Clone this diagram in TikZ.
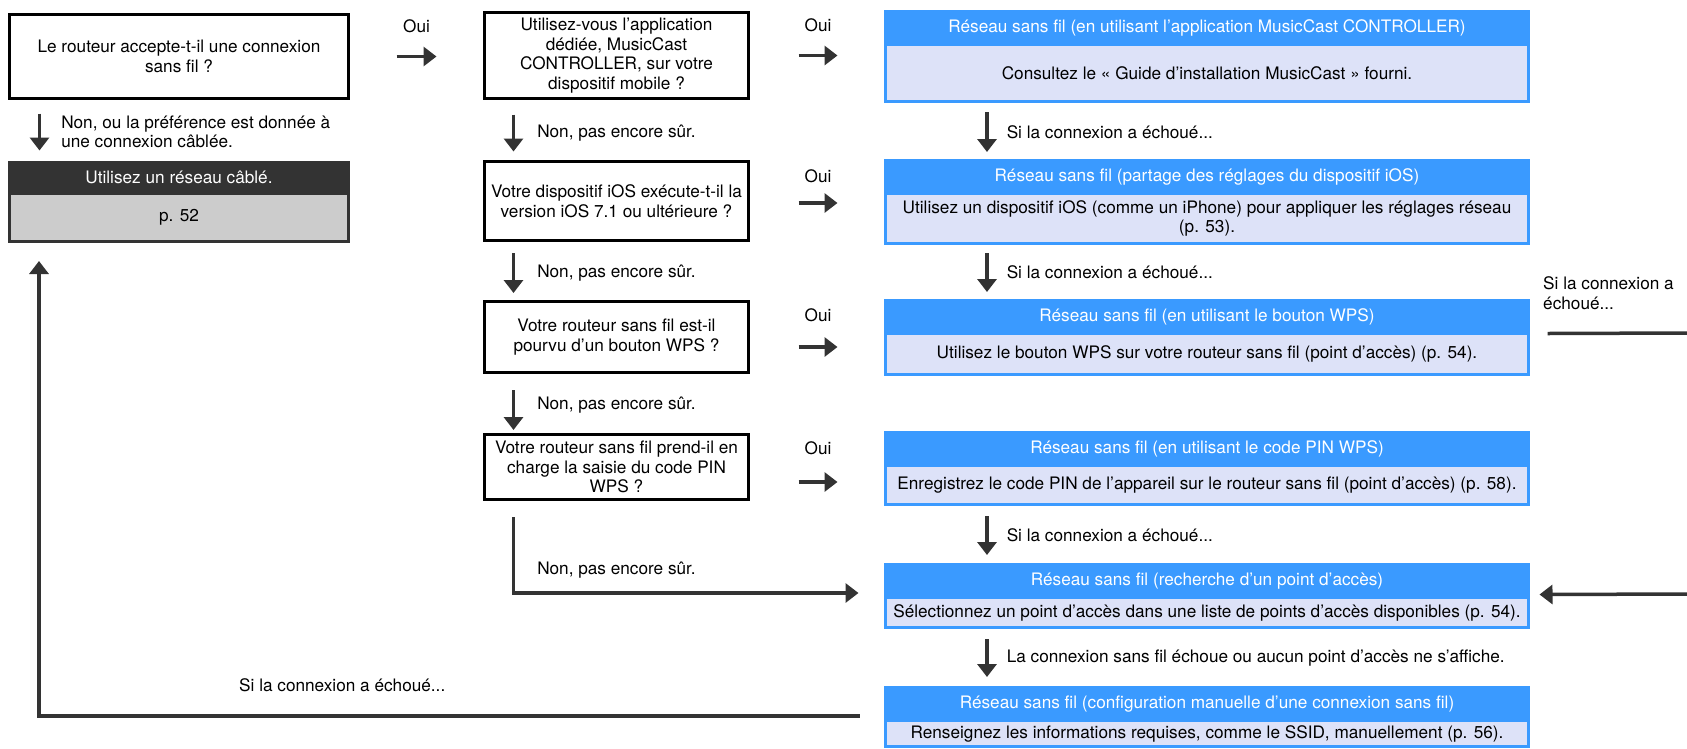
\documentclass[tikz,border=0pt]{standalone}
\usepackage{fontspec}
\setmainfont{TeX Gyre Heros}
\usetikzlibrary{positioning,arrows.meta}
\definecolor{wblue}{RGB}{58,154,255}
\definecolor{wlav}{RGB}{221,226,248}
\definecolor{dgray}{RGB}{51,51,51}
\definecolor{lgray}{RGB}{204,204,204}
\newcommand\flowfont{\fontsize{17.2}{19.5}\selectfont}
\begin{document}
\begin{tikzpicture}[x=1pt,y=-1pt,
  qbox/.style={draw=black,line width=3pt,fill=white,align=center,inner sep=2pt,outer sep=0pt,minimum width=264pt,font=\flowfont},
  hdr/.style={draw=wblue,fill=wblue,line width=3pt,text=white,align=center,inner sep=0pt,outer sep=0pt,minimum width=643pt,minimum height=33pt,font=\flowfont},
  body/.style={draw=wblue,fill=wlav,line width=3pt,align=center,inner sep=1pt,outer sep=0pt,minimum width=643pt,font=\flowfont},
  lbl/.style={anchor=west,align=left,inner sep=0pt,font=\flowfont},
  arr/.style={draw=dgray,line width=3.5pt,-{Triangle[length=13pt,width=19pt]}},
  line/.style={draw=dgray,line width=3.5pt}]
\useasboundingbox (0,0) rectangle (1687,748);
% questions
\node[qbox,minimum width=339pt,minimum height=84pt] (q1) at (179,56.5) {Le routeur accepte-t-il une connexion\\sans fil ?};
\node[qbox,minimum height=86pt] (q2) at (616.5,55.5) {Utilisez-vous l’application\\dédiée, MusicCast\\CONTROLLER, sur votre\\dispositif mobile ?};
\node[qbox,minimum height=79pt] (q3) at (616.5,201) {Votre dispositif iOS exécute-t-il la\\version iOS 7.1 ou ultérieure ?};
\node[qbox,minimum height=71pt] (q4) at (616.5,337) {Votre routeur sans fil est-il\\pourvu d’un bouton WPS ?};
\node[qbox,minimum height=65pt] (q5) at (616.5,467) {Votre routeur sans fil prend-il en\\charge la saisie du code PIN\\WPS ?};
% wired network
\node[draw=dgray,fill=dgray,line width=3pt,text=white,inner sep=0pt,outer sep=0pt,minimum width=339pt,minimum height=31pt,font=\flowfont] (wh) at (179,177.5) {Utilisez un réseau câblé.};
\node[draw=dgray,fill=lgray,line width=3pt,inner sep=0pt,outer sep=0pt,minimum width=339pt,minimum height=48.5pt,font=\flowfont,below=0pt of wh] (wb) {p. 52};
% wireless
\node[hdr] (b1h) at (1207,28) {Réseau sans fil (en utilisant l’application MusicCast CONTROLLER)};
\node[body,minimum height=57pt,below=0pt of b1h] (b1) {Consultez le « Guide d’installation MusicCast » fourni.};
\node[hdr] (b2h) at (1207,177) {Réseau sans fil (partage des réglages du dispositif iOS)};
\node[body,minimum height=50pt,below=0pt of b2h] (b2) {Utilisez un dispositif iOS (comme un iPhone) pour appliquer les réglages réseau\\(p. 53).};
\node[hdr] (b3h) at (1207,317) {Réseau sans fil (en utilisant le bouton WPS)};
\node[body,minimum height=41pt,below=0pt of b3h] (b3) {Utilisez le bouton WPS sur votre routeur sans fil (point d’accès) (p. 54).};
\node[hdr] (b4h) at (1207,448.5) {Réseau sans fil (en utilisant le code PIN WPS)};
\node[body,minimum height=39.5pt,below=0pt of b4h] (b4) {Enregistrez le code PIN de l’appareil sur le routeur sans fil (point d’accès) (p. 58).};
\node[hdr] (b5h) at (1207,581) {Réseau sans fil (recherche d’un point d’accès)};
\node[body,minimum height=30pt,below=0pt of b5h] (b5) {Sélectionnez un point d’accès dans une liste de points d’accès disponibles (p. 54).};
\node[hdr] (b6h) at (1207,704) {Réseau sans fil (configuration manuelle d’une connexion sans fil)};
\node[body,minimum height=26pt,below=0pt of b6h] (b6) {Renseignez les informations requises, comme le SSID, manuellement (p. 56).};
% oui
\draw[arr] ([xshift=48pt]q1.east) -- ++(40,0) node[midway,yshift=30pt,font=\flowfont] {Oui};
\draw[arr] ([xshift=50pt]q2.east) -- ++(39,0) node[midway,yshift=30pt,font=\flowfont] {Oui};
\draw[arr] ([xshift=50pt,yshift=-2pt]q3.east) -- ++(39,0) node[midway,yshift=27pt,font=\flowfont] {Oui};
\draw[arr] ([xshift=50pt,yshift=-10pt]q4.east) -- ++(39,0) node[midway,yshift=32pt,font=\flowfont] {Oui};
\draw[arr] ([xshift=50pt,yshift=-15pt]q5.east) -- ++(39,0) node[midway,yshift=34pt,font=\flowfont] {Oui};
% non
\draw[arr] ([xshift=30pt,yshift=-15pt]q1.south west) -- ++(0,37) node[lbl,midway,xshift=20pt] {Non, ou la préférence est donnée à\\une connexion câblée.};
\draw[arr] ([xshift=29pt,yshift=-16pt]q2.south west) -- ++(0,37) node[lbl,midway,xshift=22pt] {Non, pas encore sûr.};
\draw[arr] ([xshift=29pt,yshift=-12.5pt]q3.south west) -- ++(0,40) node[lbl,midway,xshift=22pt] {Non, pas encore sûr.};
\draw[arr] ([xshift=29pt,yshift=-17.5pt]q4.south west) -- ++(0,40) node[lbl,midway,xshift=22pt,yshift=5pt] {Non, pas encore sûr.};
\draw[arr] ([xshift=29pt,yshift=-17.5pt]q5.south west) |- ([xshift=-27pt,yshift=4.5pt]b5h.south west) node[lbl,pos=0.35,xshift=22pt] {Non, pas encore sûr.};
% echec
\draw[arr] ([xshift=101.5pt,yshift=-10.5pt]b1.south west) -- ++(0,40) node[lbl,midway,xshift=18pt] {Si la connexion a échoué...};
\draw[arr] ([xshift=101.5pt,yshift=-9.5pt]b2.south west) -- ++(0,39) node[lbl,midway,xshift=18pt] {Si la connexion a échoué...};
\draw[arr] ([xshift=101.5pt,yshift=-11.5pt]b4.south west) -- ++(0,39) node[lbl,midway,xshift=18pt] {Si la connexion a échoué...};
\draw[arr] ([xshift=101.5pt,yshift=-11.5pt]b5.south west) -- ++(0,38) node[lbl,midway,xshift=18pt] {La connexion sans fil échoue ou aucun point d’accès ne s’affiche.};
\draw[arr] ([xshift=-26pt,yshift=-12pt]b6h.west) -| ([xshift=29.5pt,yshift=-19.5pt]wb.south west);
\node[lbl] (lback) at (239,685) {Si la connexion a échoué...};
% bord droit
\coordinate (edgetop) at (1687,333);
\coordinate (edgebot) at (1687,594);
\node[lbl] (lright) at (1543,293) {Si la connexion a\\échoué...};
\draw[line] ([xshift=19pt]b3h.south east) -- (edgetop);
\draw[arr] (edgebot) -- ([xshift=11pt,yshift=3pt]b5h.south east);
\end{tikzpicture}
\end{document}
